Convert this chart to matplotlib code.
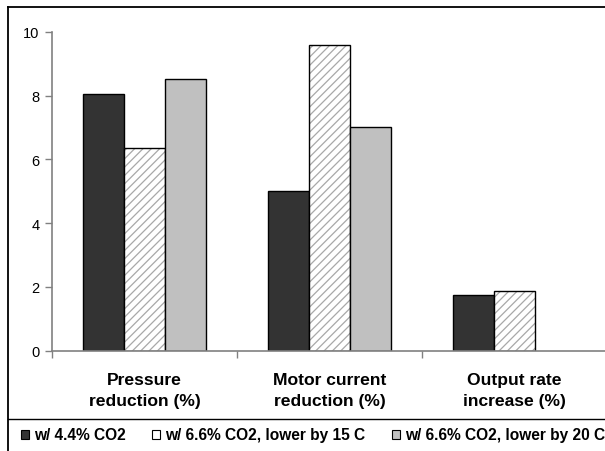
import numpy as np
import matplotlib
matplotlib.use("Agg")
import matplotlib.pyplot as plt
from matplotlib.patches import Rectangle
from matplotlib.lines import Line2D

categories = ["Pressure\nreduction (%)", "Motor current\nreduction (%)", "Output rate\nincrease (%)"]
series_names = ["w/ 4.4% CO2", "w/ 6.6% CO2, lower by 15 C", "w/ 6.6% CO2, lower by 20 C"]
co2_44 = [8.05, 5.02, 1.76]
co2_66_15c = [6.37, 9.58, 1.88]
co2_66_20c = [8.51, 7.03, 0.0]
y_ticks = [0, 2, 4, 6, 8, 10]

plt.rcParams["font.family"] = ["Liberation Sans", "DejaVu Sans"]
plt.rcParams["hatch.linewidth"] = 0.9

W, H = 605, 452
fig = plt.figure(figsize=(W / 100, H / 100), dpi=100)

def fx(px):
    return px / W

def fy(py):
    return 1 - py / H

# plot area
ax = fig.add_axes([fx(52), fy(351.7), fx(607) - fx(52), fy(33) - fy(351.7)])
x = np.arange(len(categories))
bw = 0.222
faces = ["#333333", "white", "#c0c0c0"]
hatches = [None, "////", None]
for i, (vals, face, hatch) in enumerate(zip([co2_44, co2_66_15c, co2_66_20c], faces, hatches)):
    xs = x + (i - 1) * bw
    vals = np.array(vals)
    keep = vals > 0
    if hatch:
        # hatch drawn in light gray, outline added on top in black
        ax.bar(xs[keep], vals[keep], width=bw, color=face, edgecolor="#a8a8a8",
               hatch=hatch, linewidth=0)
        ax.bar(xs[keep], vals[keep], width=bw, fill=False, edgecolor="black",
               linewidth=1.0)
    else:
        ax.bar(xs[keep], vals[keep], width=bw, color=face, edgecolor="black",
               linewidth=1.0)

ax.set_xlim(-0.5, 2.5)
ax.set_ylim(0, 10)
ax.set_yticks(y_ticks)
ax.set_yticklabels([str(t) for t in y_ticks], fontsize=10.5)
ax.set_xticks([-0.5, 0.5, 1.5, 2.5])
ax.set_xticklabels([])
ax.tick_params(axis="x", length=5, color="#808080", width=1, direction="out")
ax.tick_params(axis="y", length=5, color="#808080", width=1, direction="out", pad=4)
for s in ["top", "right"]:
    ax.spines[s].set_visible(False)
for s in ["left", "bottom"]:
    ax.spines[s].set_color("#808080")
    ax.spines[s].set_linewidth(1.2)

for xi, lab in zip(x, categories):
    ax.text(xi, -0.68, lab, ha="center", va="top", fontsize=12.6,
            fontweight="bold", linespacing=1.5, transform=ax.transData)

# outer frame (top and left edges) and legend separator
fig.add_artist(Line2D([fx(8), 1.0], [fy(8), fy(8)], transform=fig.transFigure,
                      color="black", linewidth=1.3))
fig.add_artist(Line2D([fx(8), fx(8)], [fy(8), 0.0], transform=fig.transFigure,
                      color="black", linewidth=1.3))
fig.add_artist(Line2D([fx(8), 1.0], [fy(420), fy(420)],
                      transform=fig.transFigure, color="black", linewidth=1.0))

# legend row
legend_items = [(21, series_names[0], faces[0]),
                (152, series_names[1], faces[1]),
                (392, series_names[2], faces[2])]
for px, name, face in legend_items:
    fig.add_artist(Rectangle((fx(px), fy(439.5)), fx(8), fy(431) - fy(439.5),
                             transform=fig.transFigure, facecolor=face,
                             edgecolor="black", linewidth=0.8))
    fig.text(fx(px + 13), fy(435.5), name, ha="left", va="center",
             fontsize=11.2, fontweight="bold")

fig.savefig("out.png", dpi=100)
